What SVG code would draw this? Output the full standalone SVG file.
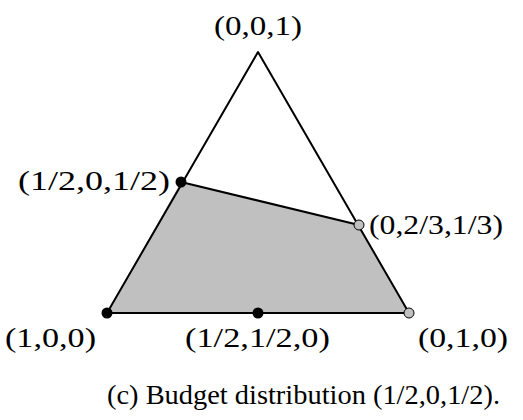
<svg xmlns="http://www.w3.org/2000/svg" width="523" height="420" viewBox="0 0 523 420">
<style>
text{font-family:"Liberation Serif","DejaVu Serif",serif;font-size:27px;fill:#000}
.edge{stroke:#000;stroke-width:2;fill:none;stroke-linejoin:round}
.dot{fill:#000}
.gdot{fill:#c0c0c0;stroke:#000;stroke-width:1}
</style>
<rect width="523" height="420" fill="#fff"/>
<g id="region">
<polygon points="107,313 181,182 359,225 409,313" fill="#c0c0c0"/>
</g>
<g id="connectors">
<path class="edge" d="M107,313 L258,52 L409,313 Z"/>
<path class="edge" d="M181,182 L359,225"/>
</g>
<g id="n001"><text x="214" y="35" textLength="88" lengthAdjust="spacingAndGlyphs">(0,0,1)</text></g>
<g id="n1_2_0_1_2"><circle class="dot" cx="181" cy="182" r="5.5"/><text x="18" y="190" textLength="152" lengthAdjust="spacingAndGlyphs">(1/2,0,1/2)</text></g>
<g id="n0_23_13"><circle class="gdot" cx="359" cy="225" r="5"/><text x="369" y="234" textLength="134" lengthAdjust="spacingAndGlyphs">(0,2/3,1/3)</text></g>
<g id="n100"><circle class="dot" cx="107" cy="313" r="5.5"/><text x="5" y="347" textLength="91" lengthAdjust="spacingAndGlyphs">(1,0,0)</text></g>
<g id="n1_2_1_2_0"><circle class="dot" cx="258" cy="313" r="5.5"/><text x="185" y="347" textLength="145" lengthAdjust="spacingAndGlyphs">(1/2,1/2,0)</text></g>
<g id="n010"><circle class="gdot" cx="409" cy="313" r="5"/><text x="418" y="347" textLength="90" lengthAdjust="spacingAndGlyphs">(0,1,0)</text></g>
<text x="107" y="404" textLength="393" lengthAdjust="spacingAndGlyphs">(c) Budget distribution (1/2,0,1/2).</text>
</svg>
